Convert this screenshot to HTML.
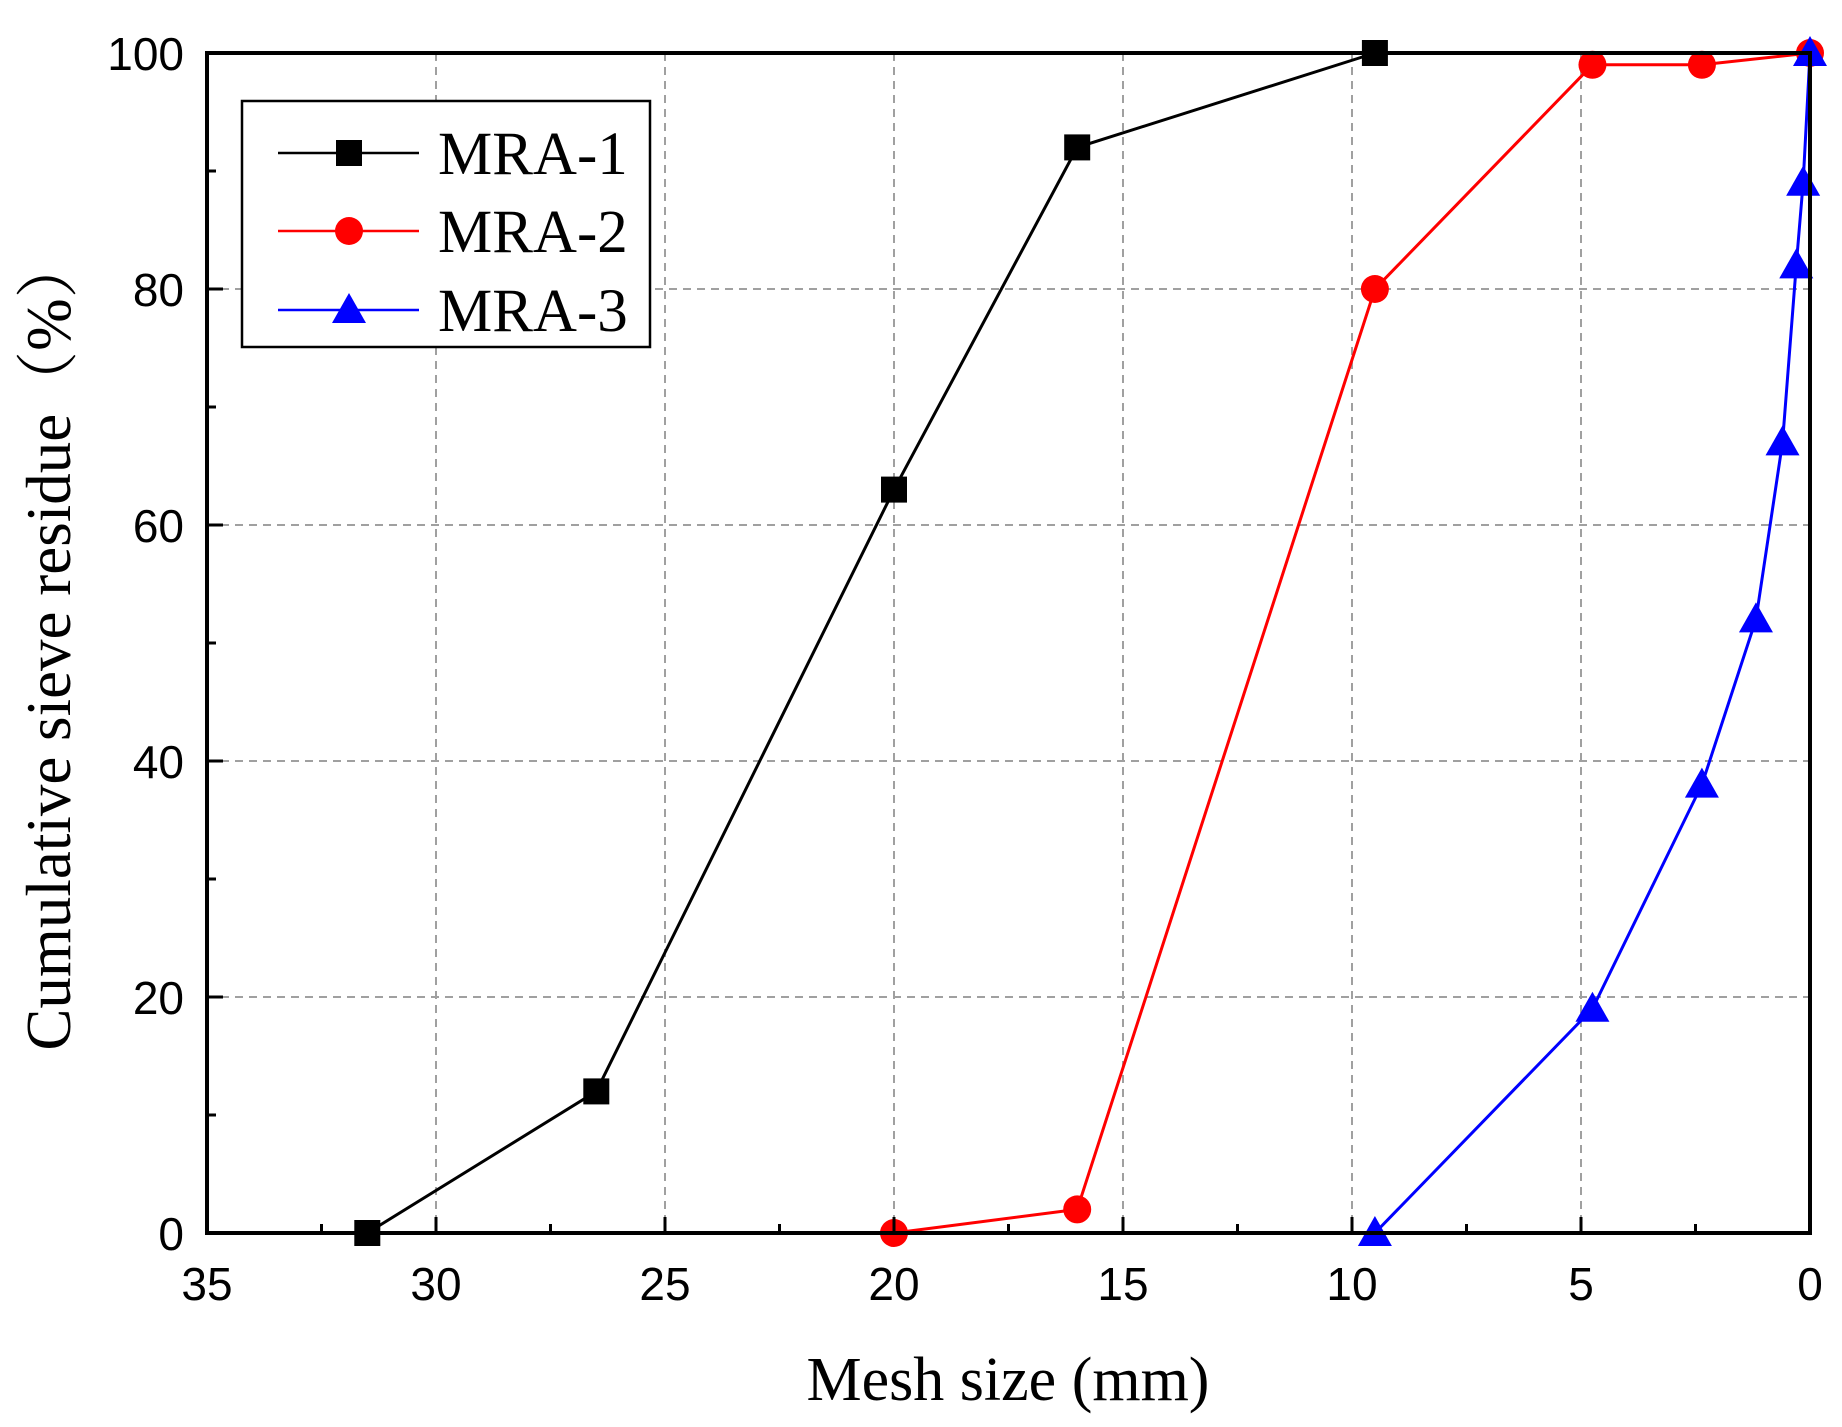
<!DOCTYPE html>
<html><head><meta charset="utf-8"><style>
html,body{margin:0;padding:0;background:#fff;}
svg{display:block;}
</style></head><body>
<svg id="chart" width="1842" height="1427" viewBox="0 0 1842 1427" xmlns="http://www.w3.org/2000/svg">
<g id="grid"></g>
<g id="series"></g>
<rect x="207" y="53" width="1603" height="1180" fill="none" stroke="#000" stroke-width="4"/>
<g id="ticks"></g>
<text x="1008" y="1400" text-anchor="middle" font-family="Liberation Serif, serif" font-size="62">Mesh size (mm)</text>
<text transform="translate(70,643) rotate(-90)" text-anchor="middle" font-family="Liberation Serif, 'Noto Serif CJK SC', serif" font-size="63">Cumulative sieve residue（%）</text>
<g>
<rect x="242" y="101" width="408" height="246" fill="#fff" stroke="#000" stroke-width="2.5"/>
<g id="legend-items"></g>
</g>
</svg>
<script>
const xTicks = [35,30,25,20,15,10,5,0];
const yTicks = [0,20,40,60,80,100];
const seriesNames = ["MRA-1","MRA-2","MRA-3"];
const mra1X = [31.5,26.5,20,16,9.5];
const mra1Y = [0,12,63,92,100];
const mra2X = [20,16,9.5,4.75,2.36,0];
const mra2Y = [0,2,80,99,99,100];
const mra3X = [9.5,4.75,2.36,1.18,0.6,0.3,0.15,0];
const mra3Y = [0,19,38,52,67,82,89,100];

const L=207,R=1810,T=53,B=1233;
const sx=v=>R-(v/35)*(R-L);
const sy=v=>B-(v/100)*(B-T);
const NS="http://www.w3.org/2000/svg";
function mk(tag,attrs,parent){const e=document.createElementNS(NS,tag);for(const k in attrs)e.setAttribute(k,attrs[k]);parent.appendChild(e);return e;}
const grid=document.getElementById('grid'),ticks=document.getElementById('ticks'),ser=document.getElementById('series');
xTicks.forEach(v=>{
  const x=sx(v);
  if(v!==35&&v!==0){const g=mk('line',{x1:x,x2:x,y1:T,y2:B,stroke:'#a0a0a0','stroke-width':2,'stroke-dasharray':'8,6'},grid);
  }
  const t=mk('line',{x1:x,x2:x,y1:B,y2:B-16,stroke:'#000','stroke-width':3},ticks);
  
  const lb=mk('text',{x:x,y:1300,'text-anchor':'middle','font-family':'Liberation Sans, sans-serif','font-size':46},ticks);
  lb.textContent=v;
  
});
for(let i=0;i<xTicks.length-1;i++){const x=sx((xTicks[i]+xTicks[i+1])/2);
  const t=mk('line',{x1:x,x2:x,y1:B,y2:B-9,stroke:'#000','stroke-width':3},ticks);
  }
yTicks.forEach(v=>{
  const y=sy(v);
  if(v!==0&&v!==100){const g=mk('line',{x1:L,x2:R,y1:y,y2:y,stroke:'#a0a0a0','stroke-width':2,'stroke-dasharray':'8,6'},grid);
  }
  const t=mk('line',{x1:L,x2:L+16,y1:y,y2:y,stroke:'#000','stroke-width':3},ticks);
  
  const lb=mk('text',{x:184,y:y+17,'text-anchor':'end','font-family':'Liberation Sans, sans-serif','font-size':46},ticks);
  lb.textContent=v;
  
});
for(let i=0;i<yTicks.length-1;i++){const y=sy((yTicks[i]+yTicks[i+1])/2);
  const t=mk('line',{x1:L,x2:L+9,y1:y,y2:y,stroke:'#000','stroke-width':3},ticks);
  }
function marker(type,x,y,color,parent){
  let e;
  if(type==='sq')e=mk('rect',{x:x-13,y:y-13,width:26,height:26,fill:color},parent);
  else if(type==='ci')e=mk('circle',{cx:x,cy:y,r:14,fill:color},parent);
  else e=mk('polygon',{points:`${x},${y-17} ${x-17},${y+13} ${x+17},${y+13}`,fill:color},parent);
  return e;
}
const defs=[[mra1X,mra1Y,'#000','sq'],[mra2X,mra2Y,'#ff0000','ci'],[mra3X,mra3Y,'#0000ff','tr']];
defs.forEach((d,si)=>{
  const pts=d[0].map((v,i)=>sx(v)+','+sy(d[1][i])).join(' ');
  const pl=mk('polyline',{points:pts,fill:'none',stroke:d[2],'stroke-width':3},ser);
  
  d[0].forEach((v,i)=>{const m=marker(d[3],sx(v),sy(d[1][i]),d[2],ser);
    });
});
const li=document.getElementById('legend-items');
[153,231,310].forEach((y,si)=>{
  const g=mk('g',{},li);
  
  mk('line',{x1:278,x2:419,y1:y,y2:y,stroke:defs[si][2],'stroke-width':2.5},g);
  marker(defs[si][3],349,y,defs[si][2],g);
  const t=mk('text',{x:438,y:y+21,'font-family':'Liberation Serif, serif','font-size':61},g);
  t.textContent=seriesNames[si];
});
</script>
</body></html>
